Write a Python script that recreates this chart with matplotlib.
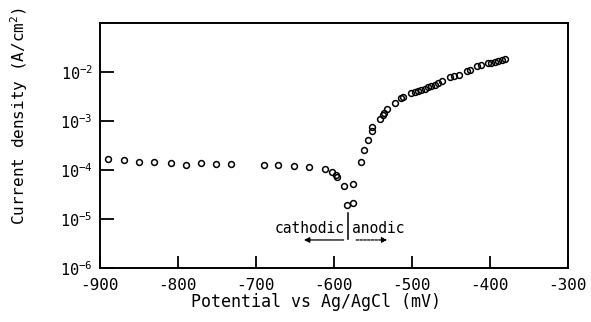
import matplotlib
matplotlib.use("Agg")
import matplotlib.pyplot as plt

plt.rcParams["font.family"] = "DejaVu Sans Mono"
plt.rcParams["mathtext.default"] = "regular"
plt.rcParams["axes.unicode_minus"] = False

# potential (mV vs Ag/AgCl) and current density (A/cm2)
potential = [-889, -869, -850, -830, -809, -790, -771, -751, -732,
             -690, -672, -651, -632, -612, -602, -597, -596,
             -587, -576, -583, -576,
             -565, -562, -556, -551, -551, -541, -537, -536, -532,
             -522, -514, -511, -501, -496, -492, -488, -483, -479,
             -475, -470, -466, -462, -451, -446, -440, -430, -426,
             -416, -412, -402, -398, -394, -390, -385, -381]
log_current = [-3.78, -3.80, -3.84, -3.84, -3.86, -3.90, -3.86, -3.88, -3.88,
               -3.90, -3.90, -3.92, -3.94, -3.98, -4.04, -4.10, -4.14,
               -4.33, -4.29, -4.71, -4.67,
               -3.84, -3.59, -3.39, -3.20, -3.12, -2.96, -2.88, -2.84, -2.76,
               -2.63, -2.53, -2.51, -2.43, -2.41, -2.39, -2.37, -2.34, -2.31,
               -2.29, -2.26, -2.23, -2.18, -2.11, -2.08, -2.07, -1.98, -1.96,
               -1.89, -1.87, -1.82, -1.81, -1.79, -1.77, -1.75, -1.73]
current = [10 ** v for v in log_current]

x_ticks = [-900, -800, -700, -600, -500, -400, -300]
y_ticks = [1e-6, 1e-5, 1e-4, 1e-3, 1e-2]
y_labels = ["10$^{-6}$", "10$^{-5}$", "10$^{-4}$", "10$^{-3}$", "10$^{-2}$"]

fig = plt.figure(figsize=(5.91, 3.22), dpi=100)
ax = fig.add_axes([0.169, 0.168, 0.792, 0.761])

ax.plot(potential, current, "o", mfc="none", mec="black", ms=4.2, mew=1.1)

ax.set_yscale("log")
ax.set_xlim(-900, -300)
ax.set_ylim(1e-6, 1e-1)
ax.set_xticks(x_ticks)
ax.set_yticks(y_ticks)
ax.set_yticklabels(y_labels)
ax.minorticks_off()
ax.tick_params(axis="y", direction="in", length=10, width=1.3, labelsize=11, pad=5)
ax.tick_params(axis="x", direction="in", length=8.5, width=1.3, labelsize=11.5, pad=7)
for s in ax.spines.values():
    s.set_linewidth(1.4)

# cathodic / anodic marker
ax.plot([-582, -582], [10 ** -4.88, 10 ** -5.41], color="black", lw=1.1)
ax.text(-586, 10 ** -5.2, "cathodic", ha="right", va="center", fontsize=10.5)
ax.text(-577, 10 ** -5.2, "anodic", ha="left", va="center", fontsize=10.5)
ax.annotate("", xy=(-642, 10 ** -5.43), xytext=(-584, 10 ** -5.43),
            arrowprops=dict(arrowstyle="-|>", color="black", lw=0.9,
                            mutation_scale=8))
ax.annotate("", xy=(-528, 10 ** -5.43), xytext=(-575, 10 ** -5.43),
            arrowprops=dict(arrowstyle="-|>", color="black", lw=0.9,
                            linestyle=(0, (2, 1)), mutation_scale=8))

fig.text(0.535, 0.062, "Potential vs Ag/AgCl (mV)", ha="center", va="center",
         fontsize=12)
fig.text(0.033, 0.64, "Current density (A/cm$^2$)", ha="center", va="center",
         rotation=90, fontsize=11.5)

fig.savefig("out.png", dpi=100)
